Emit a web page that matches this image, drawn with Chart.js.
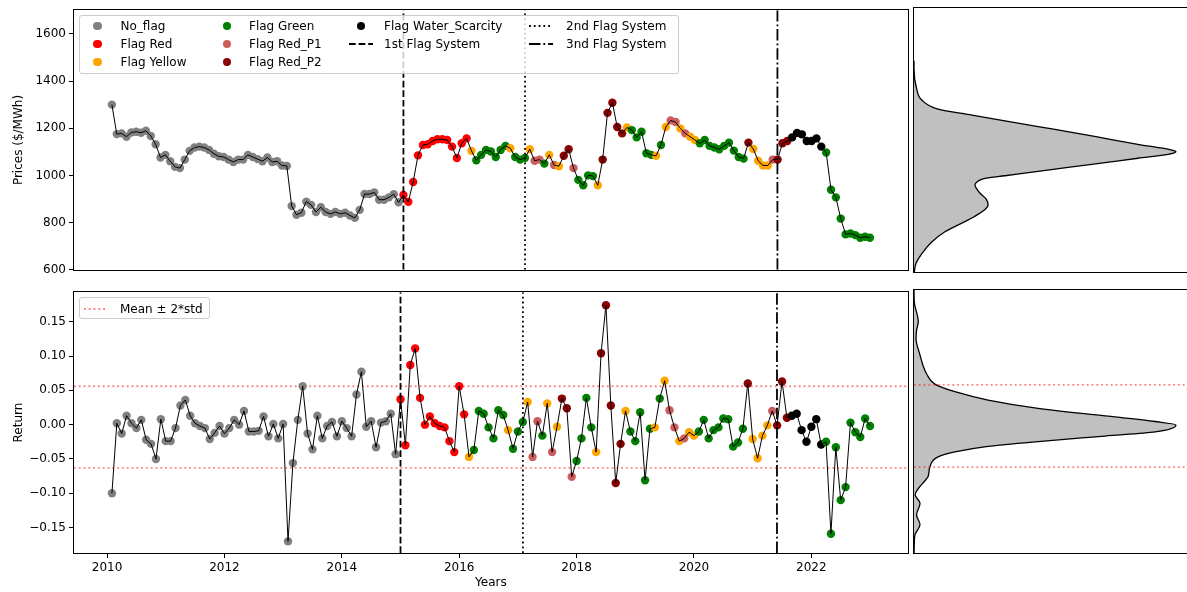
<!DOCTYPE html>
<html>
<head>
<meta charset="utf-8">
<script src="https://cdn.jsdelivr.net/npm/chart.js@4.4.1/dist/chart.umd.min.js"></script>
<style>
html, body { margin:0; padding:0; background:#fff; overflow:hidden; width:1187px; height:592px; }
.pane { position:absolute; }
canvas { display:block; }
.legend { position:absolute; background:rgba(255,255,255,0.8); border:1px solid #cccccc; border-radius:3px; box-sizing:border-box; }
.item { position:absolute; white-space:nowrap; font-family:'DejaVu Sans', sans-serif; font-size:12px; line-height:14px; color:#000; }
</style>
</head>
<body>
<div class="pane" style="left:0;top:0"><canvas id="topMain" width="912" height="280"></canvas></div>
<div class="pane" style="left:0;top:282px"><canvas id="botMain" width="912" height="310"></canvas></div>
<div class="pane" style="left:910px;top:0"><canvas id="topSide" width="290" height="280"></canvas></div>
<div class="pane" style="left:910px;top:282px"><canvas id="botSide" width="290" height="280"></canvas></div>
<div id="legendTop" class="legend" style="left:79px;top:15px;width:600px;height:59px"></div>
<div id="legendBot" class="legend" style="left:79px;top:297px;width:131px;height:22px"></div>

<script>
// monthly series, first price = Jan 2010
const startYear = 2010;

const prices = [
  1300, 1175, 1178, 1164, 1182, 1185, 1181, 1189, 1167, 1132, 1076, 1087,
  1060, 1036, 1031, 1067, 1104, 1118, 1122, 1118, 1108, 1092, 1081, 1078,
  1067, 1057, 1067, 1067, 1087, 1078, 1069, 1060, 1076, 1057, 1060, 1042,
  1040, 870, 833, 842, 889, 875, 845, 865, 845, 837, 845, 837,
  842, 830, 820, 854, 921, 921, 928, 897, 897, 907, 920, 886,
  917, 888, 972, 1085, 1129, 1132, 1146, 1153, 1153, 1150, 1122, 1074,
  1136, 1157, 1104, 1064, 1087, 1108, 1101, 1078, 1108, 1125, 1115, 1078,
  1067, 1074, 1111, 1062, 1067, 1050, 1087, 1044, 1039, 1083, 1111, 1031,
  981, 958, 1000, 997, 958, 1067, 1265, 1308, 1205, 1178, 1203, 1192,
  1161, 1185, 1094, 1087, 1083, 1129, 1205, 1233, 1226, 1199, 1178, 1164,
  1150, 1136, 1150, 1125, 1118, 1111, 1125, 1139, 1105, 1078, 1071, 1139,
  1112, 1062, 1042, 1042, 1067, 1067, 1136, 1146, 1161, 1180, 1174, 1146,
  1146, 1157, 1122, 1097, 939, 907, 817, 750, 754, 747, 736, 740,
  736
];

// N no flag, R red, Y yellow, G green, P red_P1, D red_P2, W water scarcity
const flagCodes = [
  'NNNNNNNNNNNN', 'NNNNNNNNNNNN', 'NNNNNNNNNNNN', 'NNNNNNNNNNNN', 'NNNNNNNNNNNN',
  'RRRRRRRRRRRR', 'RRYGGGGGGGYG', 'GGYPPGYPYDDP', 'GGGGYDDDDDYG', 'GGGGYGYPPYPY',
  'YGGGGGGGGGGD', 'YYYYPDDDWWWW', 'WWWGGGGGGGGG', 'G'
].join('');

// monthly returns, first = Feb 2010
const returns = [
  -0.100, 0.002, -0.013, 0.013, 0.002, -0.005, 0.007, -0.022, -0.028, -0.050, 0.008, -0.024,
  -0.024, -0.005, 0.028, 0.036, 0.013, 0.002, -0.002, -0.005, -0.021, -0.012, -0.002, -0.013,
  -0.005, 0.007, 0.000, 0.020, -0.010, -0.010, -0.009, 0.012, -0.017, 0.001, -0.020, 0.001,
  -0.170, -0.056, 0.007, 0.056, -0.013, -0.036, 0.013, -0.020, -0.002, 0.004, -0.017, 0.005,
  -0.005, -0.017, 0.044, 0.077, -0.003, 0.005, -0.033, 0.003, 0.005, 0.016, -0.043, 0.037,
  -0.030, 0.087, 0.111, 0.039, 0.000, 0.012, 0.002, -0.002, -0.004, -0.024, -0.040, 0.056,
  0.015, -0.047, -0.037, 0.020, 0.016, -0.004, -0.020, 0.021, 0.014, -0.008, -0.035, -0.010,
  0.004, 0.033, -0.047, 0.005, -0.016, 0.031, -0.040, -0.003, 0.038, 0.024, -0.076, -0.053,
  -0.020, 0.039, -0.004, -0.040, 0.104, 0.174, 0.028, -0.085, -0.028, 0.020, -0.010, -0.024,
  0.018, -0.081, -0.006, -0.004, 0.038, 0.064, 0.021, -0.004, -0.024, -0.020, -0.011, -0.016,
  -0.010, 0.007, -0.020, -0.008, -0.004, 0.009, 0.008, -0.032, -0.026, -0.006, 0.060, -0.021,
  -0.049, -0.016, -0.001, 0.020, -0.001, 0.063, 0.010, 0.013, 0.016, -0.008, -0.025, -0.003,
  0.008, -0.029, -0.025, -0.159, -0.033, -0.110, -0.091, 0.003, -0.011, -0.018, 0.009, -0.002
];

const flagSystems = [2015.0, 2017.085, 2021.414];
const bandLevels = [-0.063, 0.056];   // mean -/+ 2*std

const priceTicks = [600, 800, 1000, 1200, 1400, 1600];
const returnTicks = [-0.15, -0.10, -0.05, 0, 0.05, 0.10, 0.15];
const yearTicks = [2010, 2012, 2014, 2016, 2018, 2020, 2022];

// density curves (relative units)
const priceKdeLevel = [590, 608, 636, 678, 726, 768, 810, 830, 860, 879, 905, 928, 945, 962, 975, 990,
  1001, 1019, 1038, 1056, 1074, 1090, 1101, 1108, 1132, 1157, 1182, 1206, 1230, 1254, 1279, 1317, 1365, 1449, 1480];
const priceKdeDensity = [0, 0.002, 0.007, 0.028, 0.063, 0.108, 0.178, 0.210, 0.248, 0.259, 0.252, 0.231, 0.220, 0.213, 0.220, 0.248,
  0.318, 0.434, 0.552, 0.668, 0.783, 0.888, 0.916, 0.902, 0.783, 0.668, 0.552, 0.434, 0.318, 0.203, 0.084, 0.027, 0.009, 0, 0];

const returnKdeLevel = [-0.190, -0.173, -0.161, -0.146, -0.132, -0.115, -0.103, -0.094, -0.086, -0.077, -0.062, -0.048, -0.041, -0.033,
  -0.026, -0.018, -0.012, -0.002, 0.003, 0.011, 0.022, 0.034, 0.046, 0.057, 0.072, 0.082, 0.099, 0.123, 0.135, 0.147, 0.176, 0.195];
const returnKdeDensity = [0, 0.001, 0.003, 0.021, 0.009, 0.021, 0.004, 0.015, 0.031, 0.049, 0.056, 0.084, 0.143, 0.259,
  0.434, 0.668, 0.843, 0.916, 0.843, 0.668, 0.434, 0.259, 0.143, 0.073, 0.044, 0.033, 0.021, 0.007, 0.009, 0.015, 0.001, 0];

const flagColors = { N: 'gray', R: 'red', Y: 'orange', G: 'green', P: 'indianred', D: 'darkred', W: 'black' };
const flagLabels = [['N', 'No_flag'], ['R', 'Flag Red'], ['Y', 'Flag Yellow'], ['G', 'Flag Green'],
  ['P', 'Flag Red_P1'], ['D', 'Flag Red_P2'], ['W', 'Flag Water_Scarcity']];
const systemLabels = ['1st Flag System', '2nd Flag System', '3nd Flag System'];
const systemDashes = [[6.7, 2.9], [1.8, 3], [11.5, 2.9, 1.8, 2.9]];

const priceRange = [600, 1700];
const returnRange = [-0.187, 0.193];

Chart.defaults.font.family = "'DejaVu Sans', sans-serif";
Chart.defaults.font.size = 12;
Chart.defaults.color = '#000';
Chart.defaults.animation = false;
Chart.defaults.events = [];

// matplotlib style box around the axes
const frame = {
  id: 'frame',
  afterDraw(chart) {
    const { ctx, chartArea: a } = chart;
    ctx.save();
    ctx.strokeStyle = '#000';
    ctx.lineWidth = 1;
    ctx.strokeRect(Math.round(a.left) - 0.5, Math.round(a.top) - 0.5,
      Math.round(a.right - a.left) + 1, Math.round(a.bottom - a.top) + 1);
    ctx.restore();
  }
};

const tickGrid = { display: true, drawOnChartArea: false, drawTicks: true, tickLength: 5, color: '#000', lineWidth: 1 };

function systemLines(range) {
  return flagSystems.map((x, k) => ({
    data: [{ x: x, y: range[0] }, { x: x, y: range[1] }],
    showLine: true, pointRadius: 0, borderColor: '#000', borderWidth: 1.8,
    borderDash: systemDashes[k], borderCapStyle: 'butt', order: 1
  }));
}

function yAxis(range, ticks, title, fmt) {
  return {
    type: 'linear', min: range[0], max: range[1],
    afterFit: s => { s.width = 74; },
    afterBuildTicks: s => { s.ticks = ticks.map(v => ({ value: v })); },
    ticks: { padding: 3, callback: fmt },
    grid: tickGrid,
    border: { display: false },
    title: { display: true, text: title, padding: { top: 12, bottom: 0 } }
  };
}

// ---- top: prices ----
const pricePts = prices.map((p, i) => ({ x: startYear + i / 12, y: p }));
const priceColors = prices.map((p, i) => flagColors[flagCodes[i]]);

new Chart(document.getElementById('topMain'), {
  type: 'scatter',
  data: {
    datasets: [
      ...systemLines(priceRange),
      { data: pricePts, showLine: true, pointRadius: 0, borderColor: '#000', borderWidth: 1, order: 2 },
      { data: pricePts, pointRadius: 4.2, pointBorderWidth: 0, pointBackgroundColor: priceColors, order: 3 }
    ]
  },
  options: {
    responsive: false,
    layout: { padding: { top: 8, right: 4, bottom: 8, left: 0 } },
    plugins: { legend: { display: false }, tooltip: { enabled: false } },
    scales: {
      x: { type: 'linear', min: 2009.35, max: 2023.65, display: false },
      y: yAxis(priceRange, priceTicks, 'Prices ($/MWh)', v => String(v))
    }
  },
  plugins: [frame]
});

// ---- bottom: returns ----
const returnPts = returns.map((r, i) => ({ x: startYear + (i + 1) / 12, y: r }));
// a return is coloured with the flag of the month it ends in
const returnColors = returns.map((r, i) => flagColors[flagCodes[i + 1]]);
const fmtReturn = v => (v < 0 ? '\u2212' : '') + Math.abs(v).toFixed(2);
const xBot = [2009.437, 2023.643];

new Chart(document.getElementById('botMain'), {
  type: 'scatter',
  data: {
    datasets: [
      ...bandLevels.map(v => ({
        data: [{ x: xBot[0], y: v }, { x: xBot[1], y: v }],
        showLine: true, pointRadius: 0, borderColor: 'rgba(255,0,0,0.5)', borderWidth: 1.8,
        borderDash: [1.8, 3], order: 4
      })),
      ...systemLines(returnRange),
      { data: returnPts, showLine: true, pointRadius: 0, borderColor: '#000', borderWidth: 1, order: 2 },
      { data: returnPts, pointRadius: 4.2, pointBorderWidth: 0, pointBackgroundColor: returnColors, order: 3 }
    ]
  },
  options: {
    responsive: false,
    layout: { padding: { top: 8, right: 4, bottom: 0, left: 0 } },
    plugins: { legend: { display: false }, tooltip: { enabled: false } },
    scales: {
      x: {
        type: 'linear', min: xBot[0], max: xBot[1],
        afterFit: s => { s.height = 39; },
        afterBuildTicks: s => { s.ticks = yearTicks.map(v => ({ value: v })); },
        ticks: { padding: 3, maxRotation: 0, callback: v => String(v) },
        grid: tickGrid,
        border: { display: false },
        title: { display: true, text: 'Years', padding: { top: 0, bottom: 1.5 } }
      },
      y: yAxis(returnRange, returnTicks, 'Return', fmtReturn)
    }
  },
  plugins: [frame]
});

// ---- side density panels ----
function sideChart(id, levels, dens, range, extra, padBottom) {
  new Chart(document.getElementById(id), {
    type: 'line',
    data: {
      datasets: [
        ...extra,
        {
          data: levels.map((l, i) => ({ x: dens[i], y: l })),
          borderColor: '#000', borderWidth: 1.3, pointRadius: 0,
          backgroundColor: '#c0c0c0', fill: 'origin',
          cubicInterpolationMode: 'monotone', order: 1
        }
      ]
    },
    options: {
      responsive: false,
      indexAxis: 'y',
      layout: { padding: { top: 8, right: 0, bottom: padBottom, left: 4 } },
      plugins: { legend: { display: false }, tooltip: { enabled: false } },
      scales: {
        x: { type: 'linear', min: 0, max: 1, display: false },
        y: { type: 'linear', min: range[0], max: range[1], display: false }
      }
    },
    plugins: [frame]
  });
}

sideChart('topSide', priceKdeLevel, priceKdeDensity, priceRange, [], 8);
sideChart('botSide', returnKdeLevel, returnKdeDensity, returnRange,
  bandLevels.map(v => ({
    data: [{ x: 0, y: v }, { x: 1, y: v }],
    borderColor: 'rgba(255,0,0,0.5)', borderWidth: 1.8, borderDash: [1.8, 3],
    pointRadius: 0, fill: false, order: 0
  })), 9);

// ---- legends (matplotlib style, column-major, 4 columns) ----
function addItem(box, left, top, html) {
  const el = document.createElement('div');
  el.className = 'item';
  el.style.left = left + 'px';
  el.style.top = top + 'px';
  el.innerHTML = html;
  box.appendChild(el);
  return el;
}
function dotHandle(color) {
  return '<span style="display:inline-block;width:8.4px;height:8.4px;border-radius:50%;background:' + color + '"></span>';
}
function lineHandle(color, dash) {
  return '<svg width="24" height="6" style="display:block"><line x1="0" y1="3" x2="24" y2="3" stroke="' + color +
    '" stroke-width="1.8" stroke-dasharray="' + dash.join(' ') + '"/></svg>';
}

const legTop = document.getElementById('legendTop');
const colHandle = [17.5, 146.7, 281, 461];   // centre of handle, relative to legend box
const colText = [40.5, 169, 304, 486];
const rowMid = [9.7, 28, 46.3];
const entries = flagLabels.map(f => ({ label: f[1], handle: dotHandle(flagColors[f[0]]), dot: true }))
  .concat(systemLabels.map((l, k) => ({ label: l, handle: lineHandle('#000', systemDashes[k]), dot: false })));
const colOf = [0, 0, 0, 1, 1, 1, 2, 2, 3, 3];
const rowOf = [0, 1, 2, 0, 1, 2, 0, 1, 0, 1];
entries.forEach((e, i) => {
  const c = colOf[i], r = rowOf[i];
  if (e.dot) addItem(legTop, colHandle[c] - 4.2, rowMid[r] - 4.2, e.handle).style.lineHeight = '0';
  else addItem(legTop, colHandle[c] - 12, rowMid[r] - 3, e.handle).style.lineHeight = '0';
  addItem(legTop, colText[c], rowMid[r] - 7, e.label);
});

const legBot = document.getElementById('legendBot');
addItem(legBot, 4, 7.5, lineHandle('rgba(255,0,0,0.5)', [1.8, 3])).style.lineHeight = '0';
addItem(legBot, 40, 3.5, 'Mean \u00b1 2*std');
</script>
</body>
</html>
